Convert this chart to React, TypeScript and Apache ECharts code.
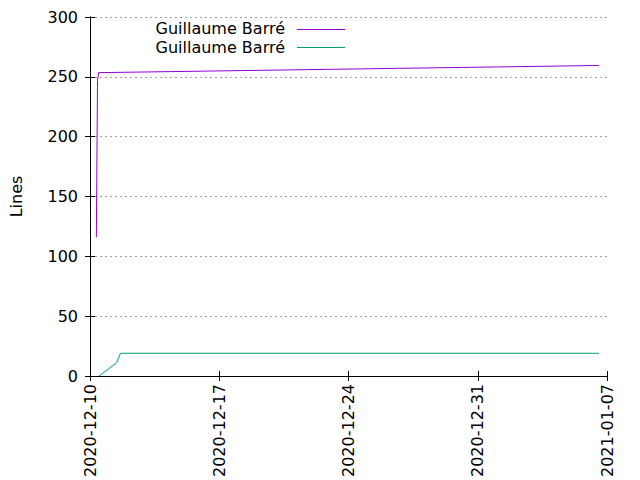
import React, { useEffect, useRef } from "react";
import * as echarts from "echarts";

const seriesName = "Guillaume Barré";
const purpleTimes = ["2020-12-10 08:15", "2020-12-10 09:45", "2020-12-10 11:15", "2021-01-06 13:30"];
const purpleValues = [116, 247, 253.5, 259.5];
const greenTimes = ["2020-12-10 11:45", "2020-12-11 10:30", "2020-12-11 15:40", "2021-01-06 13:30"];
const greenValues = [0, 11, 19, 19];
const xStart = "2020-12-10";
const xDays = 28;
const yMax = 300;
const yStep = 50;

const DAY = 86400000;
const baseMs = Date.parse(xStart + "T00:00:00Z");
const toDay = (s: string) => (Date.parse(s.replace(" ", "T") + ":00Z") - baseMs) / DAY;
const fmtDay = (d: number) => new Date(baseMs + d * DAY).toISOString().slice(0, 10);

const FONT = "DejaVu Sans";
const FS = 16;

export default function App() {
  const ref = useRef<HTMLDivElement>(null);
  useEffect(() => {
    if (!ref.current) return;
    const chart = echarts.init(ref.current, null, { renderer: "svg" });
    const purple = purpleTimes.map((t, i) => [toDay(t), purpleValues[i]]);
    const green = greenTimes.map((t, i) => [toDay(t), greenValues[i]]);
    const axisLine = { show: true, lineStyle: { color: "#000", width: 1 } };
    const tick = { show: true, inside: true, length: 5, lineStyle: { color: "#000", width: 1 } };
    const legendText = (y: number) => ({
      type: "text",
      x: 285,
      y,
      style: {
        text: seriesName,
        align: "right",
        verticalAlign: "middle",
        fontSize: FS,
        lineHeight: 15,
        fontFamily: FONT,
        fill: "#000",
      },
    });
    chart.setOption({
      animation: false,
      backgroundColor: "#fff",
      textStyle: { fontFamily: FONT },
      grid: { left: 88, right: 33, top: 17, bottom: 103 },
      xAxis: [
        {
          type: "value",
          min: 0,
          max: xDays,
          interval: 7,
          axisLine,
          axisTick: tick,
          splitLine: { show: false },
          axisLabel: {
            rotate: 90,
            margin: 8,
            color: "#000",
            fontSize: FS,
            fontFamily: FONT,
            formatter: (v: number) => fmtDay(v),
          },
        },
        {
          type: "value",
          position: "top",
          min: 0,
          max: xDays,
          interval: 7,
          axisLine,
          axisTick: tick,
          splitLine: { show: false },
          axisLabel: { show: false },
        },
      ],
      yAxis: [
        {
          type: "value",
          min: 0,
          max: yMax,
          interval: yStep,
          name: "Lines",
          nameLocation: "middle",
          nameRotate: 90,
          nameGap: 66,
          nameTextStyle: { color: "#000", fontSize: FS, fontFamily: FONT },
          axisLine,
          axisTick: tick,
          splitLine: { show: true, lineStyle: { color: "#a0a0a0", width: 1, type: [2, 3] } },
          axisLabel: { color: "#000", fontSize: FS, fontFamily: FONT, margin: 12 },
        },
        {
          type: "value",
          position: "right",
          min: 0,
          max: yMax,
          interval: yStep,
          axisLine,
          axisTick: tick,
          splitLine: { show: false },
          axisLabel: { show: false },
        },
      ],
      series: [
        {
          name: seriesName,
          type: "line",
          data: purple,
          showSymbol: false,
          symbol: "none",
          lineStyle: { color: "#9400d3", width: 1 },
          itemStyle: { color: "#9400d3" },
        },
        {
          name: seriesName,
          type: "line",
          data: green,
          showSymbol: false,
          symbol: "none",
          lineStyle: { color: "#009e73", width: 1 },
          itemStyle: { color: "#009e73" },
        },
      ],
      graphic: [
        legendText(28),
        {
          type: "line",
          shape: { x1: 297, y1: 29.5, x2: 345, y2: 29.5 },
          style: { stroke: "#9400d3", lineWidth: 1 },
        },
        legendText(47),
        {
          type: "line",
          shape: { x1: 297, y1: 47.5, x2: 345, y2: 47.5 },
          style: { stroke: "#009e73", lineWidth: 1 },
        },
      ],
    });
    return () => chart.dispose();
  }, []);
  return <div ref={ref} style={{ position: "fixed", left: 0, top: 0, width: 640, height: 480 }} />;
}
